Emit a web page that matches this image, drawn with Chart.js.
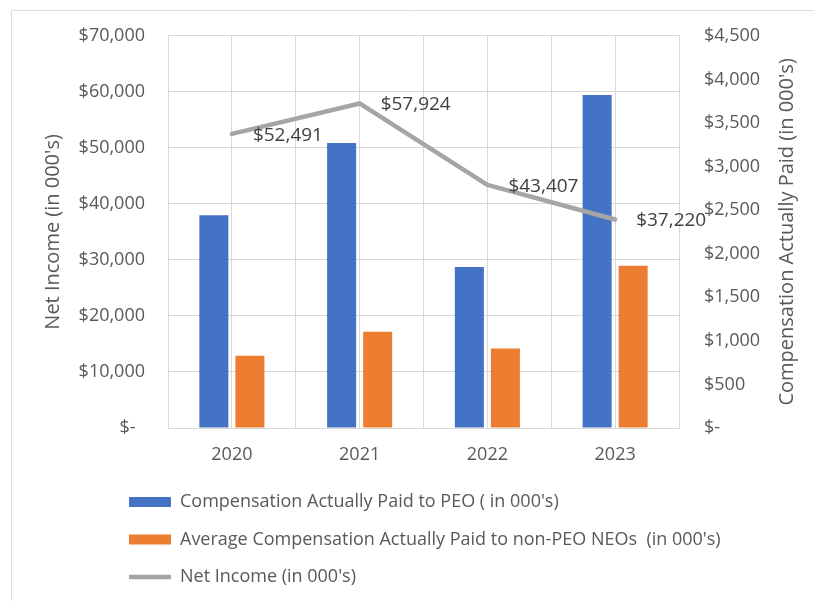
<!DOCTYPE html>
<html>
<head>
<meta charset="utf-8">
<script src="https://cdn.jsdelivr.net/npm/chart.js@4.4.1/dist/chart.umd.min.js"></script>
<style>
  html, body { margin: 0; padding: 0; background: #fff; }
</style>
</head>
<body>
<canvas id="chart" width="814" height="601"></canvas>
<script>
const years = ["2020", "2021", "2022", "2023"];
const peoPaid = [2440, 3271, 1847, 3821];
const neoPaid = [828, 1103, 912, 1863];
const netIncome = [52491, 57924, 43407, 37220];

const textColor = "#595959";
const gridColor = "#d9d9d9";
const fontFamily = "'Open Sans', sans-serif";

Chart.defaults.font.family = fontFamily;
Chart.defaults.font.size = 18;
Chart.defaults.color = textColor;

function dollars(v) {
  return v === 0 ? "$-  " : "$" + v.toLocaleString("en-US");
}

// light frame on the top and left, like the Excel chart border
const framePlugin = {
  id: "frame",
  beforeDraw(chart) {
    const ctx = chart.ctx;
    ctx.save();
    ctx.strokeStyle = "#dedede";
    ctx.lineWidth = 1;
    ctx.beginPath();
    ctx.moveTo(11.5, chart.height);
    ctx.lineTo(11.5, 10.5);
    ctx.lineTo(chart.width, 10.5);
    ctx.stroke();
    ctx.restore();
  }
};

// values next to the net income points
const valueLabels = {
  id: "valueLabels",
  afterDatasetsDraw(chart) {
    const meta = chart.getDatasetMeta(2);
    const ctx = chart.ctx;
    ctx.save();
    ctx.font = "19px " + fontFamily;
    ctx.fillStyle = "#404040";
    ctx.textAlign = "left";
    ctx.textBaseline = "middle";
    meta.data.forEach((pt, i) => {
      ctx.fillText(dollars(netIncome[i]), pt.x + 21, pt.y + 1.5);
    });
    ctx.restore();
  }
};

// right axis title reads bottom to top in the original
const rightTitle = {
  id: "rightTitle",
  afterDraw(chart) {
    const s = chart.scales.y1;
    const ctx = chart.ctx;
    ctx.save();
    ctx.translate(s.right - 20, (chart.chartArea.top + chart.chartArea.bottom) / 2);
    ctx.rotate(-Math.PI / 2);
    ctx.font = "20px " + fontFamily;
    ctx.fillStyle = textColor;
    ctx.textAlign = "center";
    ctx.textBaseline = "middle";
    ctx.fillText("Compensation Actually Paid (in 000's)", 0, 0);
    ctx.restore();
  }
};

// legend rows start under the plot, not at the canvas edge
const legendIndent = {
  id: "legendIndent",
  afterLayout(chart) {
    const lg = chart.legend;
    lg.left += 76.5;
    lg.right += 76.5;
  }
};

new Chart(document.getElementById("chart"), {
  type: "bar",
  data: {
    labels: years,
    datasets: [
      {
        label: "Compensation Actually Paid to PEO ( in 000's)",
        data: peoPaid,
        backgroundColor: "#4472c4",
        yAxisID: "y1",
        categoryPercentage: 0.564,
        barPercentage: 0.806,
        order: 1,
      },
      {
        label: "Average Compensation Actually Paid to non-PEO NEOs  (in 000's)",
        data: neoPaid,
        backgroundColor: "#ed7d31",
        yAxisID: "y1",
        categoryPercentage: 0.564,
        barPercentage: 0.806,
        order: 1,
      },
      {
        type: "line",
        label: "Net Income (in 000's)",
        data: netIncome,
        borderColor: "#a5a5a5",
        backgroundColor: "#a5a5a5",
        borderWidth: 4.5,
        borderCapStyle: "round",
        borderJoinStyle: "round",
        pointRadius: 0,
        tension: 0,
        yAxisID: "y",
        order: 0,
      },
    ],
  },
  options: {
    responsive: false,
    animation: false,
    layout: { padding: { left: 33, right: 7, top: 35, bottom: 5 } },
    plugins: {
      tooltip: { enabled: false },
      legend: {
        position: "bottom",
        align: "start",
        labels: {
          color: textColor,
          padding: 19.5,
          usePointStyle: true,
          pointStyleWidth: 42,
          boxHeight: 10,
          sort: (a, b) => a.datasetIndex - b.datasetIndex,
          generateLabels(chart) {
            const items = Chart.defaults.plugins.legend.labels.generateLabels(chart);
            items.forEach((it) => {
              it.pointStyle = it.datasetIndex === 2 ? "line" : "rect";
            });
            return items;
          },
        },
      },
    },
    scales: {
      x: {
        offset: true,
        grid: { color: gridColor, offset: true, drawTicks: false },
        border: { color: gridColor },
        ticks: { color: textColor, padding: 16 },
        afterFit(s) { s.height = 45.5; },
      },
      xc: {
        type: "category",
        position: "top",
        offset: true,
        grid: { color: gridColor, offset: false, drawTicks: false },
        border: { display: false },
        ticks: { display: false },
        afterFit(s) { s.height = 0; },
      },
      y: {
        position: "left",
        min: 0,
        max: 70000,
        ticks: { stepSize: 10000, padding: 23, color: textColor, callback: dollars },
        grid: { color: gridColor, drawTicks: false },
        border: { color: gridColor },
        title: {
          display: true,
          text: "Net Income (in 000's)",
          color: textColor,
          font: { size: 20 },
          padding: { top: 8, bottom: 0 },
        },
        afterFit(s) { s.width = 135; },
      },
      y1: {
        position: "right",
        min: 0,
        max: 4500,
        ticks: { stepSize: 500, padding: 25, color: textColor, callback: dollars },
        grid: { drawOnChartArea: false, drawTicks: false },
        border: { color: gridColor },
        afterFit(s) { s.width = 128; },
      },
    },
  },
  plugins: [framePlugin, valueLabels, rightTitle, legendIndent],
});
</script>
</body>
</html>
